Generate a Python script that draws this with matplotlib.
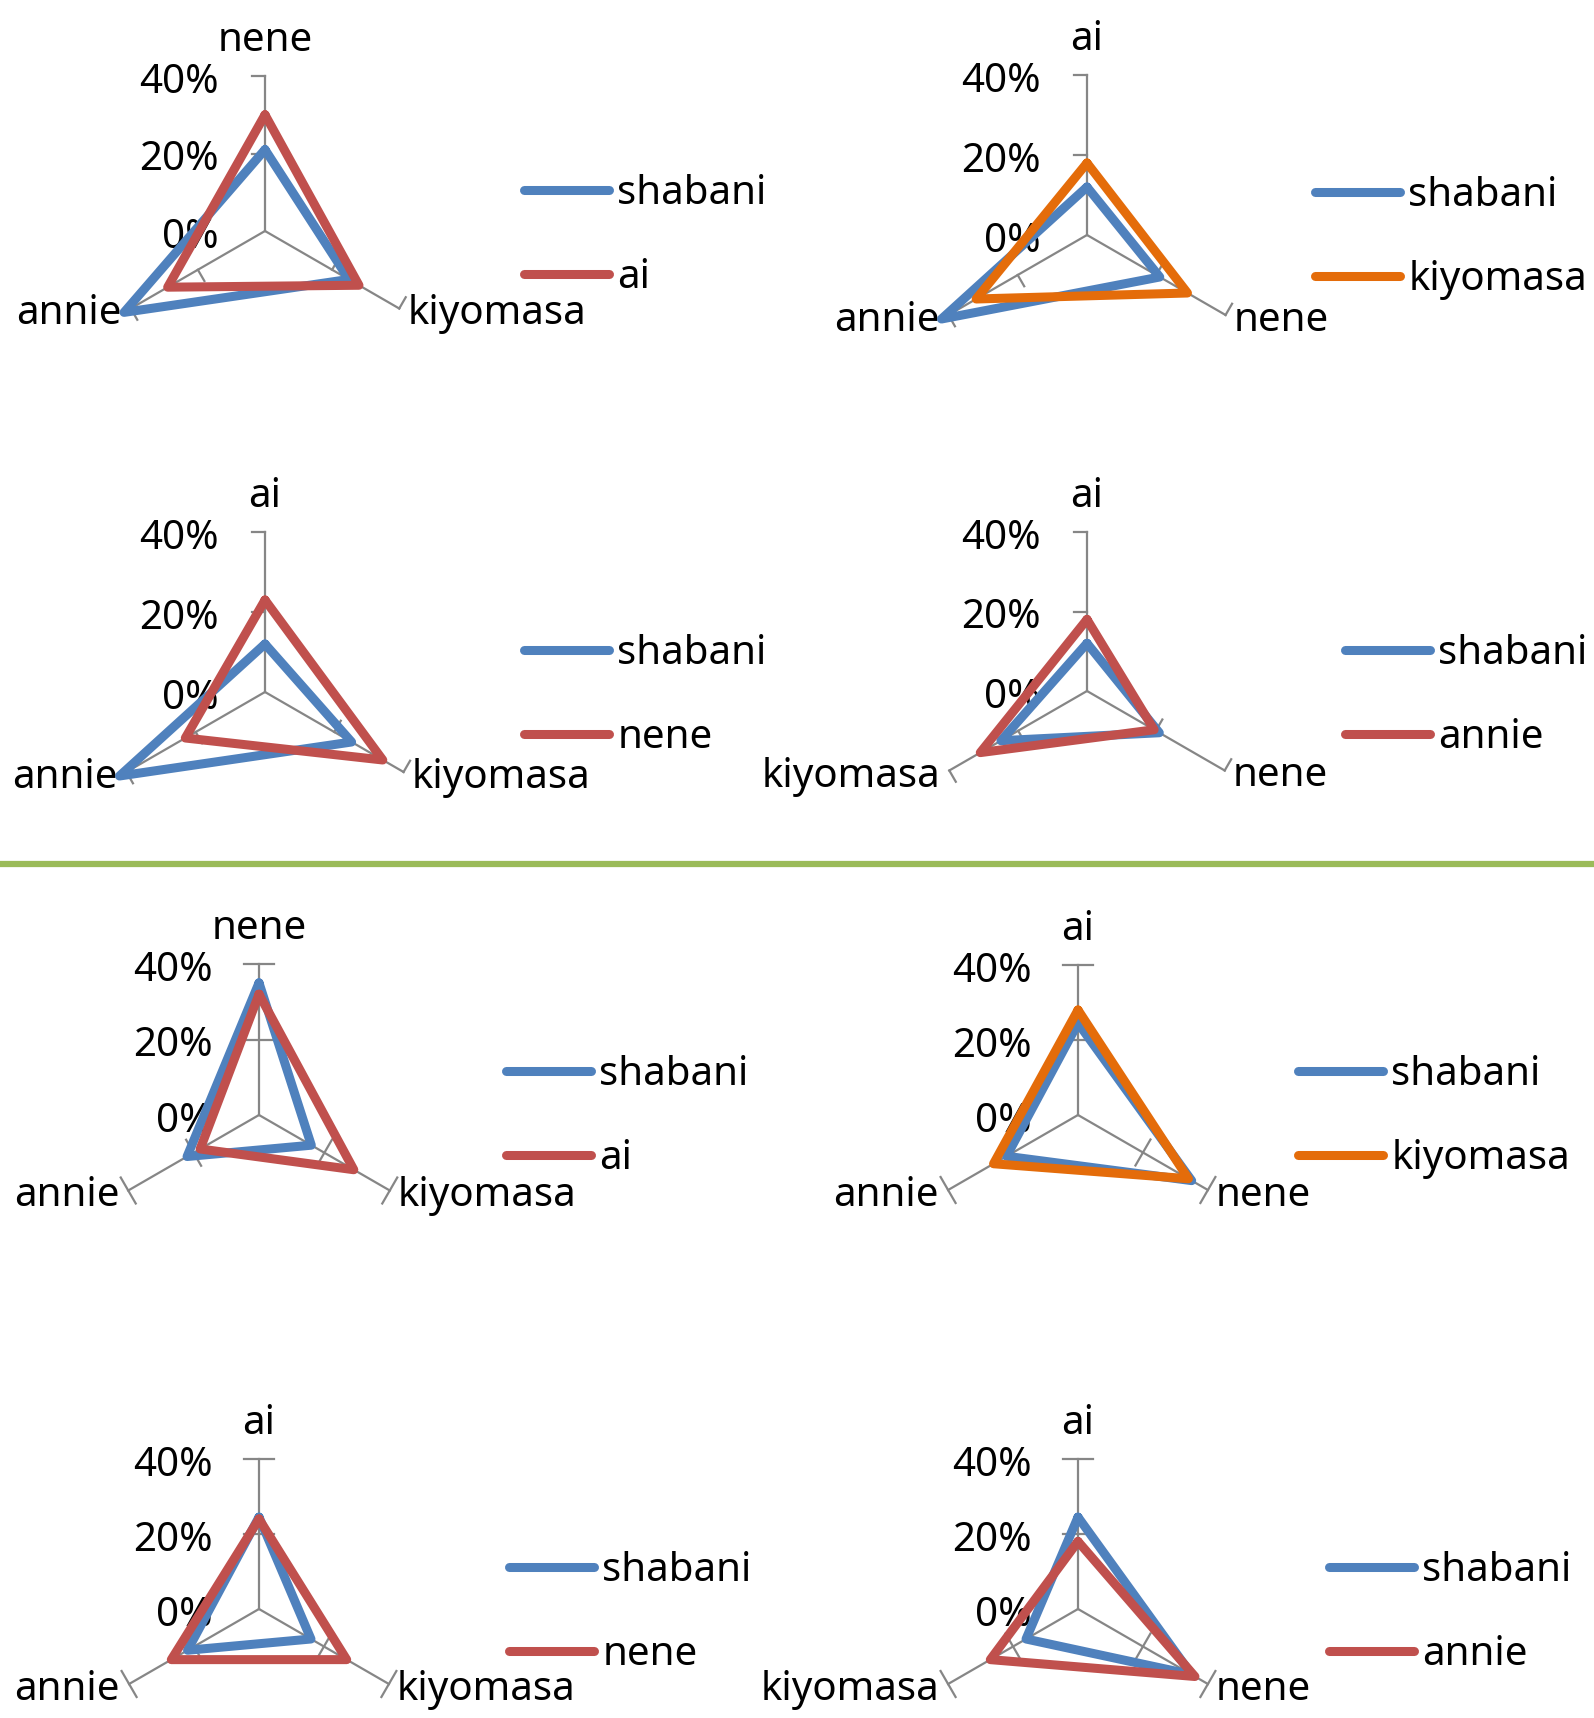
import numpy as np
import matplotlib
matplotlib.use("Agg")
import matplotlib.pyplot as plt
from matplotlib.lines import Line2D

plt.rcParams['font.family'] = ['Noto Sans', 'DejaVu Sans']

# ===========================================
# data: spoke order starts at the top and runs clockwise

axes_1 = ["nene", "kiyomasa", "annie"]
shabani_1 = [21, 25, 42]
ai_1 = [30, 28, 29]

axes_2 = ["ai", "nene", "annie"]
shabani_2 = [12, 21, 42]
kiyomasa_2 = [18, 29, 32]

axes_3 = ["ai", "kiyomasa", "annie"]
shabani_3 = [12, 25, 42]
nene_3 = [23, 34, 23]

axes_4 = ["ai", "nene", "kiyomasa"]
shabani_4 = [12, 21, 25]
annie_4 = [18, 19.5, 31]

axes_5 = ["nene", "kiyomasa", "annie"]
shabani_5 = [35, 16, 22]
ai_5 = [32, 29, 18]

axes_6 = ["ai", "nene", "annie"]
shabani_6 = [24.5, 35, 22]
kiyomasa_6 = [28, 34, 26]

axes_7 = ["ai", "kiyomasa", "annie"]
shabani_7 = [24.5, 16, 22]
nene_7 = [24, 27, 27]

axes_8 = ["ai", "nene", "kiyomasa"]
shabani_8 = [24.5, 35, 16]
annie_8 = [18, 36, 27]

r_ticks = [0, 20, 40]
r_labels = ["0%", "20%", "40%"]

panels = [
    (axes_1, [("shabani", shabani_1), ("ai", ai_1)]),
    (axes_2, [("shabani", shabani_2), ("kiyomasa", kiyomasa_2)]),
    (axes_3, [("shabani", shabani_3), ("nene", nene_3)]),
    (axes_4, [("shabani", shabani_4), ("annie", annie_4)]),
    (axes_5, [("shabani", shabani_5), ("ai", ai_5)]),
    (axes_6, [("shabani", shabani_6), ("kiyomasa", kiyomasa_6)]),
    (axes_7, [("shabani", shabani_7), ("nene", nene_7)]),
    (axes_8, [("shabani", shabani_8), ("annie", annie_8)]),
]

# ===========================================
# layout (pixels, origin top-left)

W, H, DPI = 1594, 1718, 100
FS = 29

BLUE = "#4F81BD"
RED = "#C0504D"
ORANGE = "#E46C0A"
GRID = "#868686"

second_colors = [RED, ORANGE, RED, RED, RED, ORANGE, RED, RED]
centers = [(265, 231), (1087, 235), (265, 692), (1087, 691),
           (259, 1115), (1078, 1115), (259, 1609), (1078, 1609)]
r40_px = [155, 160, 160, 159, 151, 150, 150, 150]
legend_pos = [(524, 236), (1315, 238), (524, 696), (1345, 696),
              (506, 1117), (1298, 1117), (509, 1613), (1329, 1613)]
tick_style = ["side"] * 4 + ["cross"] * 4

fig = plt.figure(figsize=(W / DPI, H / DPI), dpi=DPI)


def radar(k, cats, series):
    cx, cy = centers[k]
    u = r40_px[k] / 40.0      # pixels per percent
    half = 60 * u
    ax = fig.add_axes([(cx - half) / W, 1 - (cy + half) / H,
                       2 * half / W, 2 * half / H])
    ax.set_xlim(-60, 60)
    ax.set_ylim(-60, 60)
    ax.axis('off')

    ang = np.deg2rad([0, 120, 240])
    dx, dy = np.sin(ang), np.cos(ang)

    # spokes with tick marks at 20% and 40%
    for sx, sy in zip(dx, dy):
        ax.plot([0, 40 * sx], [0, 40 * sy], color=GRID, lw=1.6, zorder=1)
        px, py = -sy, sx
        for r in r_ticks[1:]:
            if tick_style[k] == "side":
                a, b = 0, 13 / u
            else:
                a, b = -15 / u, 15 / u
            ax.plot([r * sx + a * px, r * sx + b * px],
                    [r * sy + a * py, r * sy + b * py],
                    color=GRID, lw=1.6, zorder=1)

    for r, lab in zip(r_ticks, r_labels):
        ax.text(-46 / u, r - 17 / u, lab, ha='right', va='baseline',
                fontsize=FS, zorder=2)

    # category names
    ax.text(0, 40 + 25 / u, cats[0], ha='center', va='baseline', fontsize=FS)
    ax.text(40 * dx[1] + 8 / u, 40 * dy[1] - 16 / u, cats[1],
            ha='left', va='baseline', fontsize=FS)
    ax.text(40 * dx[2] - 9 / u, 40 * dy[2] - 16 / u, cats[2],
            ha='right', va='baseline', fontsize=FS)

    handles = []
    for (name, vals), col in zip(series, [BLUE, second_colors[k]]):
        v = np.array(vals + vals[:1], dtype=float)
        x = v * np.append(dx, dx[0])
        y = v * np.append(dy, dy[0])
        ln, = ax.plot(x, y, color=col, lw=6.5, solid_joinstyle='round',
                      solid_capstyle='round', zorder=3, label=name)
        handles.append(ln)

    lx, ly = legend_pos[k]
    ax.legend(handles=handles, loc='center left',
              bbox_to_anchor=(lx / W, 1 - ly / H),
              bbox_transform=fig.transFigure, frameon=False,
              borderpad=0, borderaxespad=0, handlelength=2.1,
              handletextpad=0.22, labelspacing=1.1, fontsize=FS)


for k, (cats, series) in enumerate(panels):
    radar(k, cats, series)

# divider between the two groups
fig.add_artist(Line2D([0, 1], [1 - 864 / H, 1 - 864 / H],
                      transform=fig.transFigure, color="#9BBB59", lw=4.5))

fig.savefig("out.png", dpi=DPI)
